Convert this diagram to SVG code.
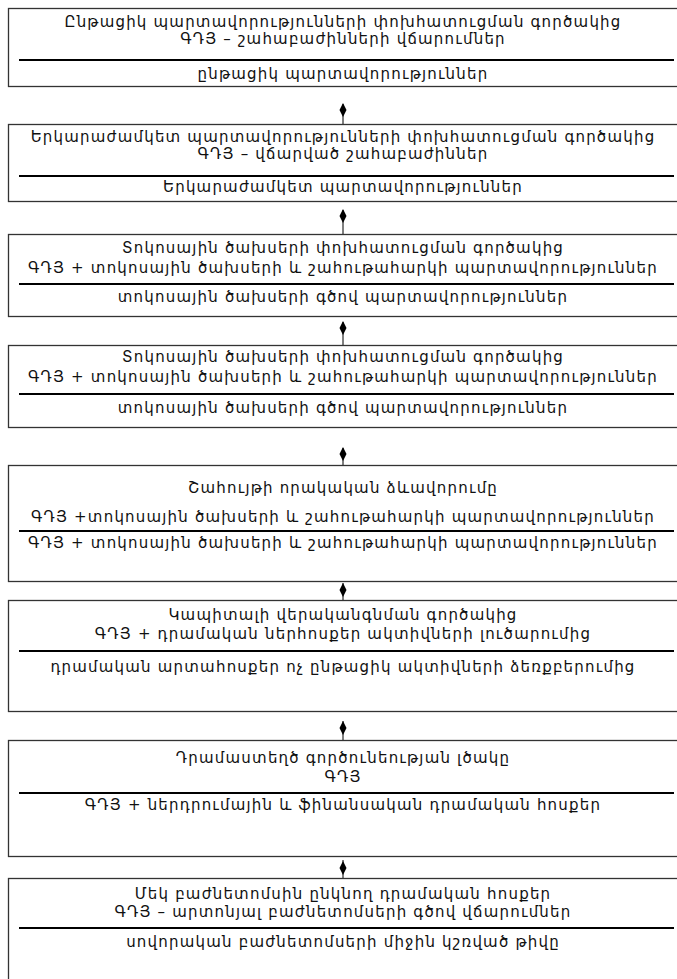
<svg xmlns="http://www.w3.org/2000/svg" width="677" height="979" viewBox="0 0 677 979">
<style>
.box{fill:#fff;stroke:#333;stroke-width:1.3}
.div{stroke:#000;stroke-width:2}
text{font-family:"DejaVu Sans","Noto Sans",sans-serif;font-size:15px;letter-spacing:1.2px;fill:#111;text-anchor:middle}
.con{stroke:#000;stroke-width:1}
.dia{fill:#000}
</style>
<rect width="677" height="979" fill="#fff"/>
<g id="connectors">
<line class="con" x1="343" y1="104" x2="343" y2="124"/><polygon class="dia" points="343,103 346.5,110 343,117 339.5,110"/>
<line class="con" x1="343" y1="210" x2="343" y2="234"/><polygon class="dia" points="343,209 346.5,216 343,223 339.5,216"/>
<line class="con" x1="343" y1="322" x2="343" y2="345"/><polygon class="dia" points="343,321 346.5,328 343,335 339.5,328"/>
<line class="con" x1="343" y1="448" x2="343" y2="465"/><polygon class="dia" points="343,447 346.5,454 343,461 339.5,454"/>
<line class="con" x1="343" y1="583" x2="343" y2="600"/><polygon class="dia" points="343,583 346.5,590 343,597 339.5,590"/>
<line class="con" x1="343" y1="721" x2="343" y2="740"/><polygon class="dia" points="343,721 346.5,728 343,735 339.5,728"/>
<line class="con" x1="343" y1="860" x2="343" y2="878"/><polygon class="dia" points="343,861 346.5,868 343,875 339.5,868"/>
</g>
<g id="n1"><rect class="box" x="8.5" y="8.5" width="680" height="78"/>
<text x="343" y="27">Ընթացիկ պարտավորությունների փոխհատուցման գործակից</text>
<text x="343" y="44">ԳԴՅ – շահաբաժինների վճարումներ</text>
<line class="div" x1="19" y1="60" x2="674" y2="60"/>
<text x="343" y="79">ընթացիկ պարտավորություններ</text></g>
<g id="n2"><rect class="box" x="8.5" y="124.5" width="680" height="77"/>
<text x="343" y="142">Երկարաժամկետ պարտավորությունների փոխհատուցման գործակից</text>
<text x="343" y="159">ԳԴՅ – վճարված շահաբաժիններ</text>
<line class="div" x1="19" y1="176" x2="674" y2="176"/>
<text x="343" y="192">Երկարաժամկետ պարտավորություններ</text></g>
<g id="n3"><rect class="box" x="8.5" y="234.5" width="680" height="82"/>
<text x="343" y="253">Տոկոսային ծախսերի փոխհատուցման գործակից</text>
<text x="343" y="273">ԳԴՅ + տոկոսային ծախսերի և շահութահարկի պարտավորություններ</text>
<line class="div" x1="19" y1="284" x2="674" y2="284"/>
<text x="343" y="302">տոկոսային ծախսերի գծով պարտավորություններ</text></g>
<g id="n4"><rect class="box" x="8.5" y="345.5" width="680" height="82"/>
<text x="343" y="362">Տոկոսային ծախսերի փոխհատուցման գործակից</text>
<text x="343" y="382">ԳԴՅ + տոկոսային ծախսերի և շահութահարկի պարտավորություններ</text>
<line class="div" x1="19" y1="394" x2="674" y2="394"/>
<text x="343" y="413">տոկոսային ծախսերի գծով պարտավորություններ</text></g>
<g id="n5"><rect class="box" x="8.5" y="465.5" width="680" height="116"/>
<text x="343" y="493">Շահույթի որակական ձևավորումը</text>
<text x="343" y="522">ԳԴՅ +տոկոսային ծախսերի և շահութահարկի պարտավորություններ</text>
<line class="div" x1="19" y1="531" x2="674" y2="531"/>
<text x="343" y="548">ԳԴՅ + տոկոսային ծախսերի և շահութահարկի պարտավորություններ</text></g>
<g id="n6"><rect class="box" x="8.5" y="600.5" width="680" height="111"/>
<text x="343" y="620">Կապիտալի վերականգնման գործակից</text>
<text x="343" y="639">ԳԴՅ + դրամական ներհոսքեր ակտիվների լուծարումից</text>
<line class="div" x1="19" y1="651" x2="674" y2="651"/>
<text x="343" y="672">դրամական արտահոսքեր ոչ ընթացիկ ակտիվների ձեռքբերումից</text></g>
<g id="n7"><rect class="box" x="8.5" y="740.5" width="680" height="116"/>
<text x="343" y="763">Դրամաստեղծ գործունեության լծակը</text>
<text x="343" y="782">ԳԴՅ</text>
<line class="div" x1="19" y1="793" x2="674" y2="793"/>
<text x="343" y="810">ԳԴՅ + ներդրումային և ֆինանսական դրամական հոսքեր</text></g>
<g id="n8"><rect class="box" x="8.5" y="878.5" width="680" height="120"/>
<text x="343" y="899">Մեկ բաժնետոմսին ընկնող դրամական հոսքեր</text>
<text x="343" y="917">ԳԴՅ – արտոնյալ բաժնետոմսերի գծով վճարումներ</text>
<line class="div" x1="19" y1="928" x2="674" y2="928"/>
<text x="343" y="947">սովորական բաժնետոմսերի միջին կշռված թիվը</text></g>
</svg>
